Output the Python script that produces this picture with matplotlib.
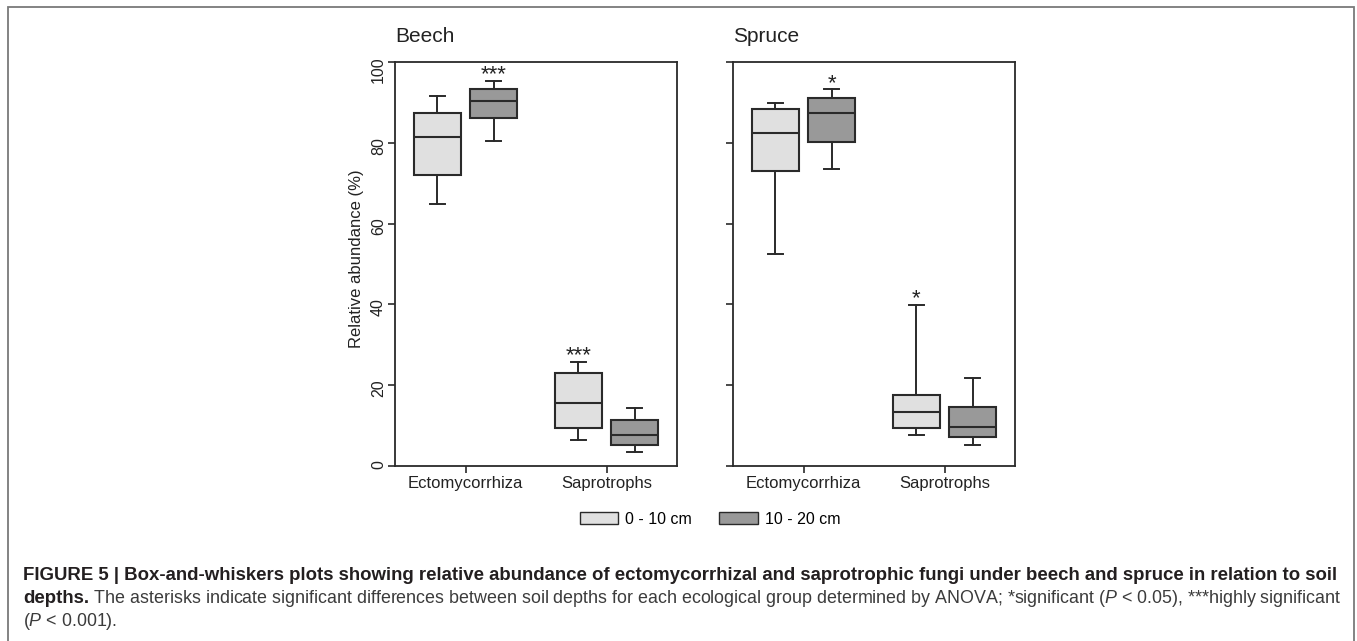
import matplotlib
matplotlib.use("Agg")
import matplotlib.pyplot as plt
from matplotlib.patches import Patch, Rectangle

plt.rcParams["font.family"] = ["Liberation Sans", "DejaVu Sans"]
plt.rcParams["mathtext.fontset"] = "custom"
plt.rcParams["mathtext.rm"] = "Liberation Sans"
plt.rcParams["mathtext.it"] = "Liberation Sans:italic"
plt.rcParams["mathtext.bf"] = "Liberation Sans:bold"

# data, box order: Ecto 0-10, Ecto 10-20, Sapro 0-10, Sapro 10-20
groups = ["Ectomycorrhiza", "Saprotrophs"]
depths = ["0 - 10 cm", "10 - 20 cm"]

beech_whislo = [64.8, 80.5, 6.4, 3.4]
beech_q1 = [72.0, 86.1, 9.3, 5.2]
beech_med = [81.4, 90.3, 15.5, 7.6]
beech_q3 = [87.5, 93.2, 22.9, 11.3]
beech_whishi = [91.6, 95.3, 25.8, 14.4]
beech_stars = ["", "***", "***", ""]

spruce_whislo = [52.5, 73.6, 7.7, 5.2]
spruce_q1 = [72.9, 80.2, 9.5, 7.1]
spruce_med = [82.4, 87.3, 13.4, 9.7]
spruce_q3 = [88.4, 91.0, 17.6, 14.6]
spruce_whishi = [89.9, 93.2, 39.8, 21.9]
spruce_stars = ["", "*", "*", ""]

yticks = [0, 20, 40, 60, 80, 100]

light = "#e0e0e0"
dark = "#999999"
edge = "#2a2a2a"


def panel(ax, title, whislo, q1, med, q3, whishi, stars, show_ylabels):
    stats = []
    for i in range(4):
        stats.append(dict(whislo=whislo[i], q1=q1[i], med=med[i], q3=q3[i],
                          whishi=whishi[i], fliers=[]))
    pos = []
    for g in range(len(groups)):
        pos += [g + 1 - 0.2, g + 1 + 0.2]
    bp = ax.bxp(stats, positions=pos, widths=0.33, capwidths=0.11,
                patch_artist=True, showfliers=False, manage_ticks=False,
                boxprops=dict(edgecolor=edge, linewidth=1.5),
                medianprops=dict(color=edge, linewidth=1.5),
                whiskerprops=dict(color=edge, linewidth=1.4),
                capprops=dict(color=edge, linewidth=1.4))
    for i, b in enumerate(bp["boxes"]):
        b.set_facecolor(light if i % 2 == 0 else dark)

    for i, s in enumerate(stars):
        if s:
            ax.annotate(s, xy=(pos[i], whishi[i]), xytext=(0, 0.5),
                        textcoords="offset points", ha="center",
                        va="baseline", fontsize=16, color="#222222")

    ax.set_xlim(0.5, 2.5)
    ax.set_ylim(0, 100)
    ax.set_xticks([1, 2])
    ax.set_xticklabels(groups)
    ax.set_yticks(yticks)
    if show_ylabels:
        ax.set_yticklabels([str(v) for v in yticks])
    else:
        ax.set_yticklabels([])
    ax.tick_params(axis="x", length=5, width=1.2, pad=2.5, labelsize=12,
                   color=edge, labelcolor="#222222")
    ax.tick_params(axis="y", length=5, width=1.2, pad=1.5, labelsize=11.5,
                   labelrotation=90, color=edge, labelcolor="#222222")
    for sp in ax.spines.values():
        sp.set_color(edge)
        sp.set_linewidth(1.3)
    ax.set_title(title, loc="left", fontsize=15, pad=14.5, color="#222222")


fig = plt.figure(figsize=(13.57, 6.41), dpi=100)
ax1 = fig.add_axes([395 / 1357, 1 - 466 / 641, 282 / 1357, 404 / 641])
ax2 = fig.add_axes([733 / 1357, 1 - 466 / 641, 282 / 1357, 404 / 641])

panel(ax1, "Beech", beech_whislo, beech_q1, beech_med, beech_q3,
      beech_whishi, beech_stars, True)
panel(ax2, "Spruce", spruce_whislo, spruce_q1, spruce_med, spruce_q3,
      spruce_whishi, spruce_stars, False)

ax1.set_ylabel("Relative abundance (%)", fontsize=12, color="#222222")
ax1.yaxis.set_label_coords(-0.11, 0.514)

handles = [Patch(facecolor=light, edgecolor=edge, linewidth=1.0),
           Patch(facecolor=dark, edgecolor=edge, linewidth=1.0)]
fig.legend(handles, depths, loc="center", bbox_to_anchor=(710 / 1357, 1 - 519 / 641),
           ncol=2, frameon=False, fontsize=11.5, handlelength=2.4,
           handleheight=0.75, handletextpad=0.45, columnspacing=1.7)

# caption: font sizes fitted to the widths of the printed lines
cap_bold = "#231f20"
cap_reg = "#3c3c3c"
x0 = 23 / 1357
renderer = fig.canvas.get_renderer()

line1 = fig.text(x0, 1 - 580 / 641,
                 "FIGURE 5 | Box-and-whiskers plots showing relative abundance of "
                 "ectomycorrhizal and saprotrophic fungi under beech and spruce in "
                 "relation to soil",
                 fontsize=12, fontweight="bold", color=cap_bold, va="baseline")
fs = 12 * 1314 / line1.get_window_extent(renderer).width
line1.set_fontsize(fs)

b2 = fig.text(x0, 1 - 603 / 641, "depths.", fontsize=fs, fontweight="bold",
              color=cap_bold, va="baseline")
bw = b2.get_window_extent(renderer).width
rest2 = fig.text(x0 + bw / 1357, 1 - 603 / 641,
                 " The asterisks indicate significant differences between soil depths "
                 "for each ecological group determined by ANOVA; *significant ($P$ < 0.05), "
                 "***highly significant",
                 fontsize=12, color=cap_reg, va="baseline")
fs2 = 12 * (1318 - bw) / rest2.get_window_extent(renderer).width
rest2.set_fontsize(fs2)
fig.text(x0, 1 - 626 / 641, "($P$ < 0.001).", fontsize=fs2, color=cap_reg,
         va="baseline")

# frame around the figure
fig.add_artist(Rectangle((8 / 1357, -0.05), (1354 - 8) / 1357, 1.05 - 7 / 641,
                         transform=fig.transFigure, fill=False,
                         edgecolor="#7a7a7a", linewidth=1.3, clip_on=False))

fig.savefig("out.png", dpi=100)
